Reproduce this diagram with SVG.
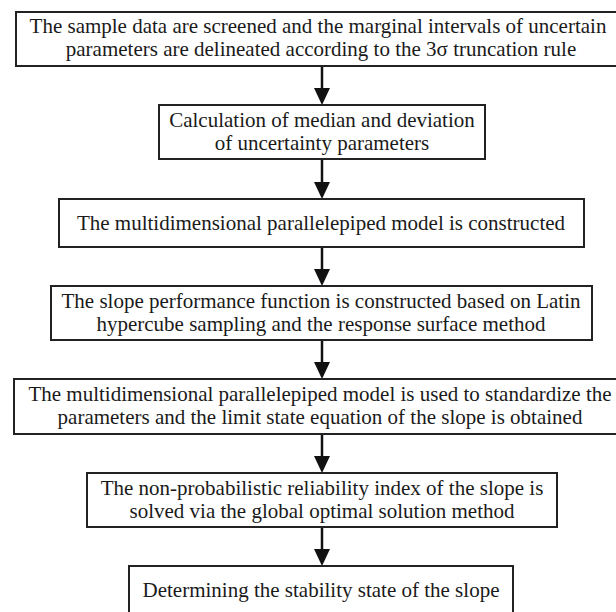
<svg xmlns="http://www.w3.org/2000/svg" width="616" height="612" viewBox="0 0 616 612">
<defs>
<style>
.box{fill:#fff;stroke:#222;stroke-width:2}
.t{font-family:"Liberation Serif","Times New Roman",serif;font-size:21px;fill:#1a1a1a;text-anchor:middle}
.c{stroke:#111;stroke-width:2.5;fill:none}
.h{fill:#111}
</style>
</defs>
<rect width="616" height="612" fill="#fff"/>
<g id="connectors">
<line class="c" x1="322" y1="66" x2="322" y2="89"/><path class="h" d="M314,88 L330,88 L322,105 Z"/>
<line class="c" x1="322" y1="160" x2="322" y2="183"/><path class="h" d="M314,182 L330,182 L322,199 Z"/>
<line class="c" x1="322" y1="248" x2="322" y2="270"/><path class="h" d="M314,269 L330,269 L322,286 Z"/>
<line class="c" x1="322" y1="341" x2="322" y2="363"/><path class="h" d="M314,362 L330,362 L322,379 Z"/>
<line class="c" x1="322" y1="435" x2="322" y2="457"/><path class="h" d="M314,456 L330,456 L322,473 Z"/>
<line class="c" x1="322" y1="528" x2="322" y2="550"/><path class="h" d="M314,549 L330,549 L322,566 Z"/>
</g>
<g id="n1">
<rect class="box" x="16" y="12" width="612" height="54"/>
<text class="t" x="318" y="33" font-family="Liberation Serif, serif">The sample data are screened and the marginal intervals of uncertain</text>
<text class="t" x="321" y="56" font-family="Liberation Serif, serif">parameters are delineated according to the 3σ truncation rule</text>
</g>
<g id="n2">
<rect class="box" x="159" y="105" width="326" height="54"/>
<text class="t" x="322" y="127" font-family="Liberation Serif, serif">Calculation of median and deviation</text>
<text class="t" x="322" y="150" font-family="Liberation Serif, serif">of uncertainty parameters</text>
</g>
<g id="n3">
<rect class="box" x="59" y="199" width="525" height="48"/>
<text class="t" x="321" y="230" font-family="Liberation Serif, serif">The multidimensional parallelepiped model is constructed</text>
</g>
<g id="n4">
<rect class="box" x="51" y="286" width="541" height="54"/>
<text class="t" x="321" y="308" font-family="Liberation Serif, serif">The slope performance function is constructed based on Latin</text>
<text class="t" x="321" y="331" font-family="Liberation Serif, serif">hypercube sampling and the response surface method</text>
</g>
<g id="n5">
<rect class="box" x="14" y="379" width="616" height="55"/>
<text class="t" x="320" y="401" font-family="Liberation Serif, serif">The multidimensional parallelepiped model is used to standardize the</text>
<text class="t" x="320" y="424" font-family="Liberation Serif, serif">parameters and the limit state equation of the slope is obtained</text>
</g>
<g id="n6">
<rect class="box" x="87" y="473" width="470" height="54"/>
<text class="t" x="322" y="495" font-family="Liberation Serif, serif">The non-probabilistic reliability index of the slope is</text>
<text class="t" x="322" y="518" font-family="Liberation Serif, serif">solved via the global optimal solution method</text>
</g>
<g id="n7">
<rect class="box" x="129" y="566" width="384" height="60"/>
<text class="t" x="321" y="597" font-family="Liberation Serif, serif">Determining the stability state of the slope</text>
</g>
</svg>
